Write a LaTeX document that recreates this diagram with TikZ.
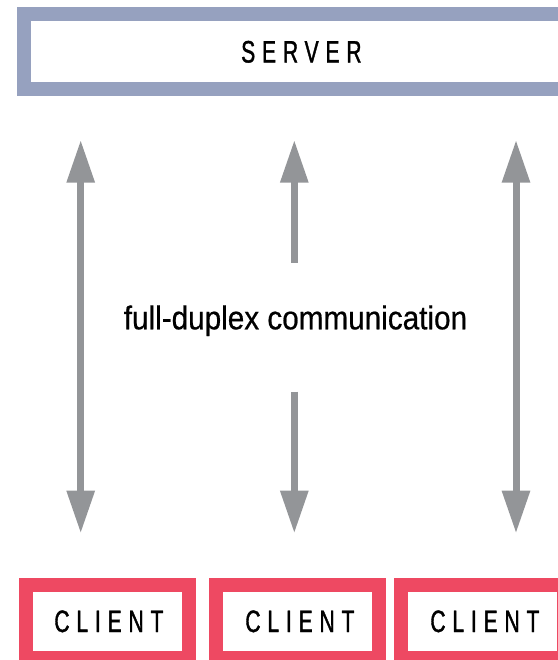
\documentclass[tikz,border=0pt]{standalone}
\usepackage{fontspec}
\setmainfont{Liberation Sans}
\newfontfamily\capsfont[FakeStretch=0.68,LetterSpace=22,FakeBold=1.2]{Liberation Sans}
\newfontfamily\midfont[FakeStretch=0.9,FakeBold=0.6]{Liberation Sans}
\usetikzlibrary{arrows.meta}
\definecolor{srvblue}{HTML}{96A1BF}
\definecolor{clired}{HTML}{EE4962}
\definecolor{arrgray}{HTML}{939598}
\tikzset{
  srvbox/.style={draw=srvblue, line width=14pt, fill=white, inner sep=0pt,
    minimum width=550pt, minimum height=75.3pt,
    font=\capsfont\fontsize{31}{32}\selectfont},
  clibox/.style={draw=clired, line width=14pt, fill=white, inner sep=0pt,
    minimum width=162.4pt, minimum height=73.3pt,
    font=\capsfont\fontsize{31}{32}\selectfont},
  arrtip/.tip={Triangle[width=26.7pt,length=42.7pt]},
  onearr/.style={draw=arrgray, line width=7pt, -arrtip},
  twoarr/.style={draw=arrgray, line width=7pt, arrtip-arrtip},
  midlabel/.style={inner sep=0pt, anchor=base, font=\midfont\fontsize{33}{35}\selectfont}
}
\begin{document}
\begin{tikzpicture}[x=1pt,y=-1pt]
\useasboundingbox (0,0) rectangle (557,660);
\node[srvbox] (server) at (299,51.85) {\kern-2pt SERVER\kern-6.8pt};
\node[clibox] (c1) at (107.5,621.35) {\kern-4pt CLIENT\kern-6.8pt};
\node[clibox] (c2) at (297.5,621.35) {\kern-2pt CLIENT\kern-6.8pt};
\node[clibox] (c3) at (482.5,621.35) {\kern-2pt CLIENT\kern-6.8pt};
\node[midlabel] (lbl) at (295.5,329.3) {full-duplex communication};
\coordinate (l1) at (80.7,140);
\coordinate (l2) at (80.7,533.3);
\coordinate (m1) at (294.3,140);
\coordinate (m2) at (294.3,262.7);
\coordinate (m3) at (294.3,391.7);
\coordinate (m4) at (294.3,533.3);
\coordinate (r1) at (516,140);
\coordinate (r2) at (516,533.3);
\draw[twoarr] (l1) -- (l2);
\draw[onearr] (m2) -- (m1);
\draw[onearr] (m3) -- (m4);
\draw[twoarr] (r1) -- (r2);
\end{tikzpicture}
\end{document}
